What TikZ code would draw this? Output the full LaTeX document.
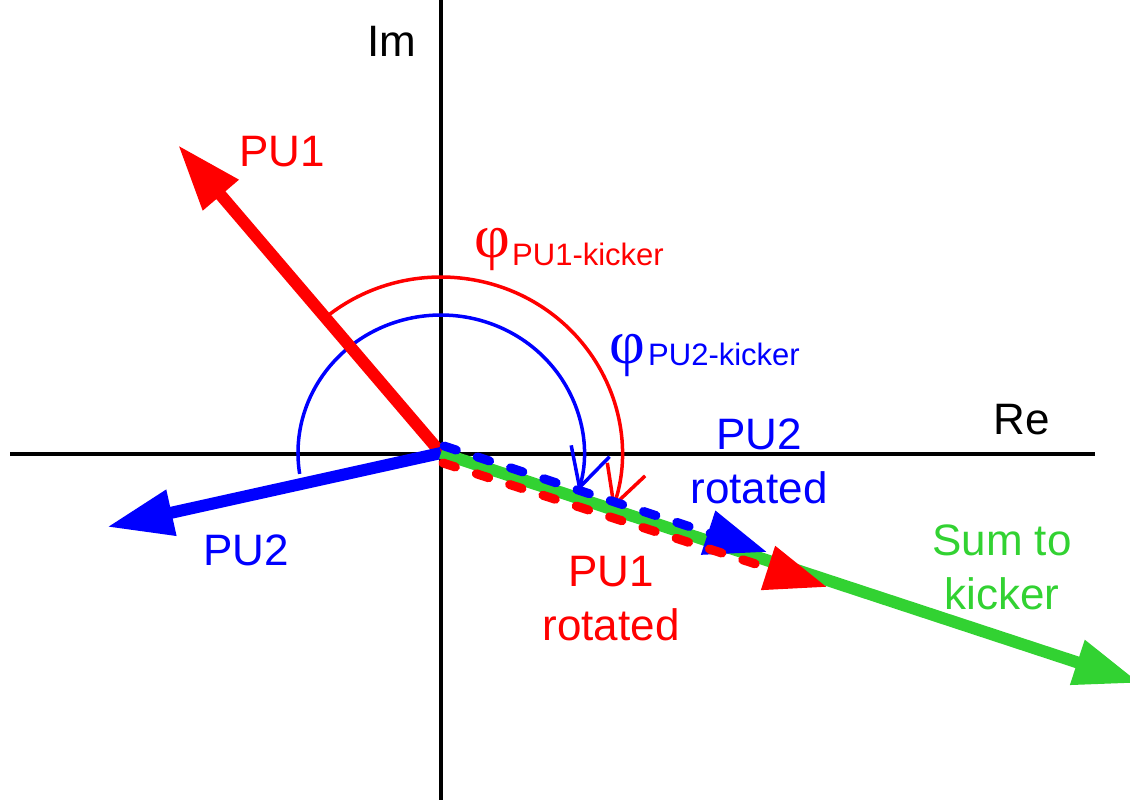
\documentclass[tikz,border=0pt]{standalone}
\usepackage{fontspec}
\setmainfont{Liberation Sans}
\newfontfamily\phifont{Liberation Serif}
\usetikzlibrary{arrows.meta}
\definecolor{pred}{RGB}{255,0,0}
\definecolor{pblue}{RGB}{0,0,255}
\definecolor{pgreen}{RGB}{50,210,50}
\begin{document}
\begin{tikzpicture}[x=1pt,y=1pt,
  axisline/.style={line width=4pt,black},
  vec/.style={line width=12pt,-{Triangle[length=66pt,width=44pt]}},
  rotvec/.style={line width=9pt,line cap=round,dash pattern=on 13pt off 22pt,-{Triangle[length=62pt,width=44pt]}},
  anglearc/.style={line width=3.5pt,-{Straight Barb[length=38pt,width=40pt]}},
  lbl/.style={font=\fontsize{44}{54}\selectfont,inner sep=0pt,anchor=base,align=center},
  phi/.style={font=\fontsize{62}{62}\selectfont\phifont,inner sep=0pt,anchor=base},
  sub/.style={font=\fontsize{31}{32}\selectfont,inner sep=0pt,anchor=base west}]
\useasboundingbox (0,0) rectangle (1130,-800);
% coordinates
\coordinate (O) at (441,-453);
\coordinate (imtop) at (441,0);
\coordinate (imbot) at (441,-800);
\coordinate (releft) at (10,-454);
\coordinate (reright) at (1095,-454);
\coordinate (pu1tip) at (178,-145);
\coordinate (pu2tip) at (107,-527);
\coordinate (sumtip) at (1140,-683);
\coordinate (b0) at (444,-446);
\coordinate (b1) at (767,-552);
\coordinate (r0) at (443,-463);
\coordinate (r1) at (827,-587);
% axes
\draw[axisline] (imtop) -- (imbot);
\draw[axisline] (releft) -- (reright);
% angle arcs
\draw[anglearc,pred] ([shift={(130.6:181 and 176)}]O) arc[start angle=130.6,end angle=-18.5,x radius=181,y radius=176];
\draw[anglearc,pblue] ([shift={(188.7:143 and 138)}]O) arc[start angle=188.7,end angle=-16,x radius=143,y radius=138];
% vectors
\draw[vec,pred] (O) -- (pu1tip);
\draw[vec,pblue] (O) -- (pu2tip);
\draw[vec,pgreen] (O) -- (sumtip);
\draw[rotvec,pblue] (b0) -- (b1);
\draw[rotvec,pred] (r0) -- (r1);
% labels
\node[lbl] (im) at (392,-57) {Im};
\node[lbl] (re) at (1022,-434) {Re};
\node[lbl,text=pred] (pu1) at (282,-166) {PU1};
\node[lbl,text=pblue] (pu2) at (246,-565) {PU2};
\node[lbl,text=pblue] (pu2rot) at (759,-503) {PU2\\rotated};
\node[lbl,text=pred] (pu1rot) at (611,-640) {PU1\\rotated};
\node[lbl,text=pgreen] (sum) at (1002,-609) {Sum to\\kicker};
\node[phi,text=pred] (phi1) at (492,-257) {φ};
\node[sub,text=pred] (sub1) at (512,-265) {PU1-kicker};
\node[phi,text=pblue] (phi2) at (627,-363) {φ};
\node[sub,text=pblue] (sub2) at (648,-365) {PU2-kicker};
\end{tikzpicture}
\end{document}
